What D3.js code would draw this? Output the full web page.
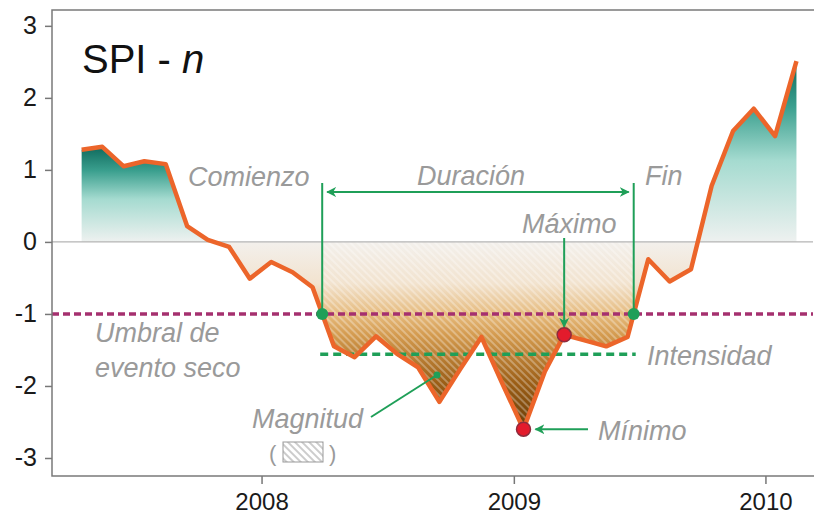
<!DOCTYPE html>
<html>
<head>
<meta charset="utf-8">
<script src="https://cdn.jsdelivr.net/npm/d3@7"></script>
<style>
  body { margin: 0; background: #fff; }
  svg { display: block; font-family: "Liberation Sans", Arial, sans-serif; }
  .note { fill: #9a9a9a; font-style: italic; font-size: 27px; }
  .axis text { font-size: 25px; fill: #1a1a1a; font-family: "Liberation Sans", Arial, sans-serif; }
  .xaxis text { font-size: 24px; }
  .axis line { stroke: #777; stroke-width: 1.5; }
</style>
</head>
<body>
<div id="chart"></div>
<script>
//data: monthly SPI, April 2007 .. February 2010
const startYear = 2007;
const startMonth = 3;
const spi = [1.28, 1.32, 1.05, 1.12, 1.08, 0.22, 0.03, -0.07, -0.51, -0.28, -0.42, -0.63,
  -1.45, -1.6, -1.31, -1.55, -1.74, -2.22, -1.77, -1.32, -1.96, -2.6, -1.8, -1.29,
  -1.37, -1.45, -1.32, -0.24, -0.55, -0.38, 0.78, 1.54, 1.85, 1.47, 2.51];
const months = spi.map((d, i) => new Date(startYear, startMonth + i, 15));
const yTicks = [-3, -2, -1, 0, 1, 2, 3];
const xTicks = [new Date(2008, 0, 1), new Date(2009, 0, 1), new Date(2010, 0, 1)];
const threshold = -1;
const intensity = -1.56;

const w = 814;
const h = 517;
const green = "#1f9f58";

//scales
const xScale = d3.scaleTime()
  .domain([new Date(2007, 2, 3), new Date(2010, 2, 11)])
  .range([52, 813]);
const yScale = d3.scaleLinear()
  .domain([-3.25, 3.22])
  .range([476, 10]);

const pts = months.map((m, i) => ({ t: m, v: spi[i] }));

//split the series where it crosses a level
function splitAt(data, level) {
  const out = [];
  let cur = [data[0]];
  for (let i = 1; i < data.length; i++) {
    const a = data[i - 1], b = data[i];
    if ((a.v - level) * (b.v - level) < 0) {
      const f = (level - a.v) / (b.v - a.v);
      const c = { t: new Date(+a.t + f * (b.t - a.t)), v: level };
      cur.push(c);
      out.push(cur);
      cur = [c];
    }
    cur.push(b);
  }
  out.push(cur);
  return out;
}

const zeroRuns = splitAt(pts, 0);
const posRuns = zeroRuns.filter(r => d3.mean(r, d => d.v) > 0);
const negRuns = zeroRuns.filter(r => d3.mean(r, d => d.v) < 0);
const event = splitAt(pts, threshold)
  .filter(r => r.length > 3 && d3.mean(r, d => d.v) < threshold)[0];
const evStart = event[0];
const evEnd = event[event.length - 1];
const evInner = event.slice(1, -1);
const minPt = evInner[d3.minIndex(evInner, d => d.v)];
const maxPt = evInner[d3.maxIndex(evInner, d => d.v)];

const svg = d3.select("#chart")
  .append("svg")
  .attr("width", w)
  .attr("height", h);

const defs = svg.append("defs");

const tealGrad = defs.append("linearGradient")
  .attr("id", "teal")
  .attr("x1", 0).attr("y1", 0).attr("x2", 0).attr("y2", 1);
[[0, "#0f6a5d"], [0.25, "#3a9f8e"], [0.55, "#a5dbd0"], [1, "#eef1f0"]]
  .forEach(s => tealGrad.append("stop").attr("offset", s[0]).attr("stop-color", s[1]));

const brownGrad = defs.append("linearGradient")
  .attr("id", "brown")
  .attr("gradientUnits", "userSpaceOnUse")
  .attr("x1", 0).attr("x2", 0)
  .attr("y1", yScale(0)).attr("y2", yScale(-2.6));
[[0, "#f3f0ec"], [0.22, "#f2e3cf"], [0.385, "#e6bb7e"], [0.5, "#d39a4e"], [0.75, "#9c5f17"], [1, "#6a3c06"]]
  .forEach(s => brownGrad.append("stop").attr("offset", s[0]).attr("stop-color", s[1]));

const hatch = defs.append("pattern")
  .attr("id", "hatch")
  .attr("patternUnits", "userSpaceOnUse")
  .attr("width", 5).attr("height", 5)
  .attr("patternTransform", "rotate(-45)");
hatch.append("line")
  .attr("x1", 1).attr("y1", 0).attr("x2", 1).attr("y2", 5)
  .attr("stroke", "#fff").attr("stroke-opacity", 0.45).attr("stroke-width", 1.3);

const hatchKey = defs.append("pattern")
  .attr("id", "hatchKey")
  .attr("patternUnits", "userSpaceOnUse")
  .attr("width", 5).attr("height", 5)
  .attr("patternTransform", "rotate(-45)");
hatchKey.append("line")
  .attr("x1", 1).attr("y1", 0).attr("x2", 1).attr("y2", 5)
  .attr("stroke", "#999").attr("stroke-width", 1);

const marker = defs.append("marker")
  .attr("id", "arrow")
  .attr("viewBox", "0 0 10 10")
  .attr("refX", 9).attr("refY", 5)
  .attr("markerWidth", 5).attr("markerHeight", 5)
  .attr("markerUnits", "strokeWidth")
  .attr("orient", "auto-start-reverse");
marker.append("path").attr("d", "M0,0 L10,5 L0,10 L3,5 z").attr("fill", green);

const area = d3.area()
  .x(d => xScale(d.t))
  .y0(yScale(0))
  .y1(d => yScale(d.v));

//areas
svg.selectAll(".pos")
  .data(posRuns)
  .enter()
  .append("path")
  .attr("class", "pos")
  .attr("d", area)
  .attr("fill", "url(#teal)");

svg.selectAll(".neg")
  .data(negRuns)
  .enter()
  .append("path")
  .attr("class", "neg")
  .attr("d", area)
  .attr("fill", "url(#brown)");

const clip = defs.append("clipPath").attr("id", "negClip");
negRuns.forEach(r => clip.append("path").attr("d", area(r)));

svg.append("rect")
  .attr("x", xScale(evStart.t))
  .attr("y", yScale(0))
  .attr("width", xScale(evEnd.t) - xScale(evStart.t))
  .attr("height", yScale(-3.25) - yScale(0))
  .attr("fill", "url(#hatch)")
  .attr("clip-path", "url(#negClip)");

//zero line
svg.append("line")
  .attr("x1", xScale.range()[0]).attr("x2", xScale.range()[1])
  .attr("y1", yScale(0)).attr("y2", yScale(0))
  .attr("stroke", "#b5b5b5").attr("stroke-width", 1.2);

//threshold
svg.append("line")
  .attr("x1", xScale.range()[0]).attr("x2", xScale.range()[1])
  .attr("y1", yScale(threshold)).attr("y2", yScale(threshold))
  .attr("stroke", "#a5306f").attr("stroke-width", 3.5)
  .attr("stroke-dasharray", "7,4");

//intensity
svg.append("line")
  .attr("x1", xScale(evStart.t) - 2).attr("x2", xScale(evEnd.t) + 2)
  .attr("y1", yScale(intensity)).attr("y2", yScale(intensity))
  .attr("stroke", green).attr("stroke-width", 3.5)
  .attr("stroke-dasharray", "8,5");

//spi line
svg.append("path")
  .datum(pts)
  .attr("d", d3.line().x(d => xScale(d.t)).y(d => yScale(d.v)))
  .attr("fill", "none")
  .attr("stroke", "#ec652a")
  .attr("stroke-width", 4.5)
  .attr("stroke-linejoin", "round");

//start / end / duration
[evStart, evEnd].forEach(p => {
  svg.append("line")
    .attr("x1", xScale(p.t)).attr("x2", xScale(p.t))
    .attr("y1", 183).attr("y2", yScale(threshold))
    .attr("stroke", green).attr("stroke-width", 2);
});
svg.append("line")
  .attr("x1", xScale(evStart.t) + 5).attr("x2", xScale(evEnd.t) - 5)
  .attr("y1", 192).attr("y2", 192)
  .attr("stroke", green).attr("stroke-width", 2)
  .attr("marker-start", "url(#arrow)")
  .attr("marker-end", "url(#arrow)");

//maximo arrow
svg.append("line")
  .attr("x1", xScale(maxPt.t)).attr("x2", xScale(maxPt.t))
  .attr("y1", 238).attr("y2", yScale(maxPt.v) - 8)
  .attr("stroke", green).attr("stroke-width", 2)
  .attr("marker-end", "url(#arrow)");

//minimo arrow
svg.append("line")
  .attr("x1", 588).attr("x2", xScale(minPt.t) + 12)
  .attr("y1", yScale(minPt.v)).attr("y2", yScale(minPt.v))
  .attr("stroke", green).attr("stroke-width", 2)
  .attr("marker-end", "url(#arrow)");

//magnitud pointer
svg.append("line")
  .attr("x1", 371).attr("y1", 417)
  .attr("x2", 437).attr("y2", 375)
  .attr("stroke", green).attr("stroke-width", 2);
svg.append("circle")
  .attr("cx", 437).attr("cy", 375).attr("r", 3.5)
  .attr("fill", green);

//dots
svg.selectAll(".cross")
  .data([evStart, evEnd])
  .enter()
  .append("circle")
  .attr("cx", d => xScale(d.t))
  .attr("cy", d => yScale(d.v))
  .attr("r", 6)
  .attr("fill", green);

svg.selectAll(".ext")
  .data([minPt, maxPt])
  .enter()
  .append("circle")
  .attr("cx", d => xScale(d.t))
  .attr("cy", d => yScale(d.v))
  .attr("r", 7)
  .attr("fill", "#e31b2c")
  .attr("stroke", "#8e2c3c")
  .attr("stroke-width", 1.5);

//labels
const notes = [
  ["Comienzo", 188, 186],
  ["Duración", 417, 185],
  ["Fin", 645, 185],
  ["Máximo", 522, 233],
  ["Umbral de", 95, 342],
  ["evento seco", 95, 377],
  ["Intensidad", 647, 365],
  ["Mínimo", 598, 440],
  ["Magnitud", 252, 428]
];
svg.selectAll(".note")
  .data(notes)
  .enter()
  .append("text")
  .attr("class", "note")
  .attr("x", d => d[1])
  .attr("y", d => d[2])
  .text(d => d[0]);

//magnitud key
svg.append("text").attr("class", "note").style("font-style", "normal").style("font-size", "22px")
  .attr("x", 269).attr("y", 461).text("(");
svg.append("text").attr("class", "note").style("font-style", "normal").style("font-size", "22px")
  .attr("x", 329).attr("y", 461).text(")");
svg.append("rect")
  .attr("x", 283).attr("y", 442).attr("width", 40).attr("height", 20)
  .attr("fill", "url(#hatchKey)")
  .attr("stroke", "#999").attr("stroke-width", 1);

//title
const title = svg.append("text")
  .attr("x", 82).attr("y", 73)
  .attr("font-size", 40)
  .attr("fill", "#111");
title.append("tspan").text("SPI - ");
title.append("tspan").attr("font-style", "italic").text("n");

//axes
const yAxis = d3.axisLeft(yScale).tickValues(yTicks).tickSize(7).tickPadding(8)
  .tickFormat(d => String(d));
const xAxis = d3.axisBottom(xScale).tickValues(xTicks).tickSize(8).tickPadding(9)
  .tickFormat(d3.timeFormat("%Y"));

svg.append("g")
  .attr("class", "axis")
  .attr("transform", "translate(52,0)")
  .call(yAxis)
  .call(g => g.select(".domain").remove());

svg.append("g")
  .attr("class", "axis xaxis")
  .attr("transform", "translate(0,476)")
  .call(xAxis)
  .call(g => g.select(".domain").remove());

//frame
svg.append("path")
  .attr("d", "M820,10 H52 V476 H820")
  .attr("fill", "none")
  .attr("stroke", "#7a7a7a")
  .attr("stroke-width", 1.5);
</script>
</body>
</html>
